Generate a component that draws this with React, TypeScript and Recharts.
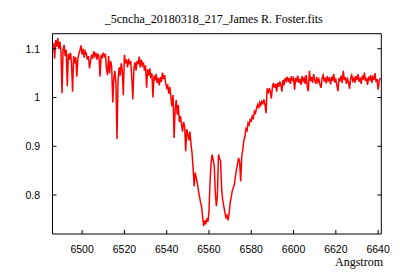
import { LineChart, Line, XAxis, YAxis } from "recharts";

const TITLE = "_5cncha_20180318_217_James R. Foster.fits";
const X_LABEL = "Angstrom";

const xTicks = [6500, 6520, 6540, 6560, 6580, 6600, 6620, 6640];
const yTicks = [0.8, 0.9, 1, 1.1];
const xDomain = [6486, 6641.5];
const yDomain = [0.72, 1.131];

// sampling of the spectrum (Angstrom)
const wavelength = [
  6486.5, 6487, 6487.5, 6488, 6488.5, 6489, 6489.5, 6490, 6490.5, 6491,
  6491.5, 6492, 6492.5, 6493, 6493.5, 6494, 6494.5, 6495, 6495.5, 6496,
  6496.5, 6497, 6497.5, 6498, 6498.5, 6499, 6499.5, 6500, 6500.5, 6501,
  6501.5, 6502, 6502.5, 6503, 6503.5, 6504, 6504.5, 6505, 6505.5, 6506,
  6506.5, 6507, 6507.5, 6508, 6508.5, 6509, 6509.5, 6510, 6510.5, 6511,
  6511.5, 6512, 6512.5, 6513, 6513.5, 6514, 6514.5, 6515, 6515.5, 6516,
  6516.5, 6517, 6517.5, 6518, 6518.5, 6519, 6519.5, 6520, 6520.5, 6521,
  6521.5, 6522, 6522.5, 6523, 6523.5, 6524, 6524.5, 6525, 6525.5, 6526,
  6526.5, 6527, 6527.5, 6528, 6528.5, 6529, 6529.5, 6530, 6530.5, 6531,
  6531.5, 6532, 6532.5, 6533, 6533.5, 6534, 6534.5, 6535, 6535.5, 6536,
  6536.5, 6537, 6537.5, 6538, 6538.5, 6539, 6539.5, 6540, 6540.5, 6541,
  6541.5, 6542, 6542.5, 6543, 6543.5, 6544, 6544.5, 6545, 6545.5, 6546,
  6546.5, 6547, 6547.5, 6548, 6548.5, 6549, 6549.5, 6550, 6550.5, 6551,
  6551.5, 6552, 6552.5, 6553, 6553.5, 6554, 6554.5, 6555, 6555.5, 6556,
  6556.5, 6557, 6557.5, 6558, 6558.5, 6559, 6559.5, 6560, 6560.5, 6561,
  6561.5, 6562, 6562.5, 6563, 6563.5, 6564, 6564.5, 6565, 6565.5, 6566,
  6566.5, 6567, 6567.5, 6568, 6568.5, 6569, 6569.5, 6570, 6570.5, 6571,
  6571.5, 6572, 6572.5, 6573, 6573.5, 6574, 6574.5, 6575, 6575.5, 6576,
  6576.5, 6577, 6577.5, 6578, 6578.5, 6579, 6579.5, 6580, 6580.5, 6581,
  6581.5, 6582, 6582.5, 6583, 6583.5, 6584, 6584.5, 6585, 6585.5, 6586,
  6586.5, 6587, 6587.5, 6588, 6588.5, 6589, 6589.5, 6590, 6590.5, 6591,
  6591.5, 6592, 6592.5, 6593, 6593.5, 6594, 6594.5, 6595, 6595.5, 6596,
  6596.5, 6597, 6597.5, 6598, 6598.5, 6599, 6599.5, 6600, 6600.5, 6601,
  6601.5, 6602, 6602.5, 6603, 6603.5, 6604, 6604.5, 6605, 6605.5, 6606,
  6606.5, 6607, 6607.5, 6608, 6608.5, 6609, 6609.5, 6610, 6610.5, 6611,
  6611.5, 6612, 6612.5, 6613, 6613.5, 6614, 6614.5, 6615, 6615.5, 6616,
  6616.5, 6617, 6617.5, 6618, 6618.5, 6619, 6619.5, 6620, 6620.5, 6621,
  6621.5, 6622, 6622.5, 6623, 6623.5, 6624, 6624.5, 6625, 6625.5, 6626,
  6626.5, 6627, 6627.5, 6628, 6628.5, 6629, 6629.5, 6630, 6630.5, 6631,
  6631.5, 6632, 6632.5, 6633, 6633.5, 6634, 6634.5, 6635, 6635.5, 6636,
  6636.5, 6637, 6637.5, 6638, 6638.5, 6639, 6639.5, 6640, 6640.5, 6641,
];

// blue continuum 6486.5 - 6540
const fluxBlue = [
  1.112, 1.080, 1.118, 1.104, 1.122, 1.100, 1.115, 1.095, 1.009, 1.098,
  1.108, 1.085, 1.098, 1.023, 1.090, 1.078, 1.092, 1.070, 1.012, 1.085,
  1.070, 1.083, 1.043, 1.080, 1.090, 1.097, 1.107, 1.088, 1.100, 1.082,
  1.095, 1.090, 1.078, 1.085, 1.060, 1.075, 1.088, 1.080, 1.095, 1.085,
  1.092, 1.078, 1.090, 1.082, 1.043, 1.088, 1.080, 1.092, 1.085, 1.090,
  1.060, 1.046, 1.085, 1.050, 1.075, 1.062, 0.990, 1.040, 1.055, 1.030,
  0.915, 1.035, 1.062, 1.045, 1.070, 1.055, 1.005, 1.088, 1.070, 1.078,
  1.062, 1.080, 1.068, 1.075, 1.040, 0.996, 1.060, 1.072, 1.055, 1.075,
  1.068, 1.084, 1.062, 1.078, 1.066, 1.072, 1.055, 1.066, 1.020, 1.058,
  1.045, 1.060, 1.040, 1.050, 1.000, 1.045, 1.035, 1.048, 1.030, 1.040,
  1.025, 1.042, 1.032, 1.051, 1.038, 1.046, 1.030, 1.020,
];

// H-alpha wing and core 6540.5 - 6580
const fluxCore = [
  1.025, 1.008, 1.022, 1.000, 0.982, 1.005, 0.917, 0.975, 0.995, 0.965,
  0.985, 0.950, 0.962, 0.945, 0.930, 0.950, 0.940, 0.890, 0.935, 0.925,
  0.912, 0.930, 0.905, 0.886, 0.855, 0.818, 0.846, 0.835, 0.825, 0.810,
  0.797, 0.785, 0.776, 0.755, 0.736, 0.748, 0.740, 0.752, 0.745, 0.766,
  0.825, 0.866, 0.883, 0.872, 0.860, 0.805, 0.777, 0.800, 0.883, 0.875,
  0.870, 0.812, 0.790, 0.777, 0.765, 0.754, 0.758, 0.748, 0.760, 0.784,
  0.795, 0.808, 0.815, 0.821, 0.838, 0.852, 0.864, 0.876, 0.868, 0.828,
  0.880, 0.893, 0.912, 0.920, 0.936, 0.932, 0.948, 0.944, 0.955, 0.952,
];

// red wing and continuum 6580.5 - 6641
const fluxRed = [
  0.962, 0.958, 0.972, 0.968, 0.978, 0.985, 0.978, 0.990, 0.984, 0.992,
  0.988, 0.996, 0.985, 0.968, 1.019, 1.008, 1.019, 1.012, 0.998, 1.022,
  1.030, 1.020, 1.028, 1.012, 1.030, 1.022, 1.033, 1.026, 1.012, 1.036,
  1.025, 1.040, 1.034, 1.043, 1.032, 1.040, 1.028, 1.044, 1.036, 1.040,
  1.016, 1.040, 1.032, 1.045, 1.030, 1.038, 1.026, 1.044, 1.034, 1.040,
  1.028, 1.046, 1.022, 1.013, 1.055, 1.034, 1.042, 1.030, 1.048, 1.036,
  1.028, 1.042, 1.032, 1.038, 1.026, 1.020, 1.040, 1.046, 1.033, 1.041,
  1.029, 1.044, 1.035, 1.039, 1.027, 1.043, 1.034, 1.048, 1.031, 1.037,
  1.025, 1.013, 1.040, 1.033, 1.045, 1.030, 1.055, 1.036, 1.042, 1.028,
  1.038, 1.032, 1.018, 1.040, 1.046, 1.034, 1.040, 1.030, 1.044, 1.036,
  1.048, 1.032, 1.041, 1.028, 1.045, 1.037, 1.051, 1.034, 1.040, 1.026,
  1.043, 1.035, 1.046, 1.030, 1.042, 1.036, 1.050, 1.032, 1.038, 1.016,
  1.034, 1.040,
];

const flux = [...fluxBlue, ...fluxCore, ...fluxRed];
const data = wavelength.map((w, i) => ({ w, f: flux[i] }));

const tickFont = { fontFamily: "Liberation Sans, Arial, sans-serif", fontSize: 10.5, fill: "#000" };
const serifFont = { fontFamily: "Liberation Serif, Times New Roman, serif", fill: "#000" };

const BottomTick = ({ x, y, payload }: any) => (
  <g>
    <line x1={x} y1={y} x2={x} y2={y - 4} stroke="#000" />
    <text x={x} y={y + 19} textAnchor="middle" {...tickFont}>
      {payload.value}
    </text>
  </g>
);

const TopTick = ({ x, y }: any) => <line x1={x} y1={y} x2={x} y2={y + 4} stroke="#000" />;

const LeftTick = ({ x, y, payload }: any) => (
  <g>
    <line x1={x} y1={y} x2={x + 4} y2={y} stroke="#000" />
    <text x={x - 12.5} y={y + 3.8} textAnchor="end" {...tickFont}>
      {String(payload.value)}
    </text>
  </g>
);

const RightTick = ({ x, y }: any) => <line x1={x} y1={y} x2={x - 4} y2={y} stroke="#000" />;

export default function App() {
  return (
    <div style={{ position: "absolute", left: 0, top: 0, width: 400, height: 280, background: "#fff" }}>
      <LineChart width={400} height={280} data={data} margin={{ top: 0, right: 0, bottom: 0, left: 0 }}>
        <XAxis
          dataKey="w"
          type="number"
          domain={xDomain}
          ticks={xTicks}
          allowDataOverflow
          interval={0}
          height={46}
          tickSize={0}
          tickMargin={0}
          tickLine={false}
          axisLine={{ stroke: "#000" }}
          tick={BottomTick}
        />
        <XAxis
          xAxisId="top"
          orientation="top"
          type="number"
          domain={xDomain}
          ticks={xTicks}
          allowDataOverflow
          interval={0}
          height={33.7}
          tickSize={0}
          tickMargin={0}
          tickLine={false}
          axisLine={{ stroke: "#000" }}
          tick={TopTick}
        />
        <YAxis
          type="number"
          domain={yDomain}
          ticks={yTicks}
          allowDataOverflow
          interval={0}
          width={52.5}
          tickSize={0}
          tickMargin={0}
          tickLine={false}
          axisLine={{ stroke: "#000" }}
          tick={LeftTick}
        />
        <YAxis
          yAxisId="right"
          orientation="right"
          type="number"
          domain={yDomain}
          ticks={yTicks}
          allowDataOverflow
          interval={0}
          width={18.7}
          tickSize={0}
          tickMargin={0}
          tickLine={false}
          axisLine={{ stroke: "#000" }}
          tick={RightTick}
        />
        <Line
          type="linear"
          dataKey="f"
          stroke="#ff0000"
          strokeWidth={1.5}
          dot={false}
          isAnimationActive={false}
        />
      </LineChart>
      <svg width={400} height={280} style={{ position: "absolute", left: 0, top: 0, pointerEvents: "none" }}>
        <text x={213.8} y={22.5} textAnchor="middle" fontSize={12} {...serifFont}>
          {TITLE}
        </text>
        <text x={383} y={265.5} textAnchor="end" fontSize={12} {...serifFont}>
          {X_LABEL}
        </text>
      </svg>
    </div>
  );
}
